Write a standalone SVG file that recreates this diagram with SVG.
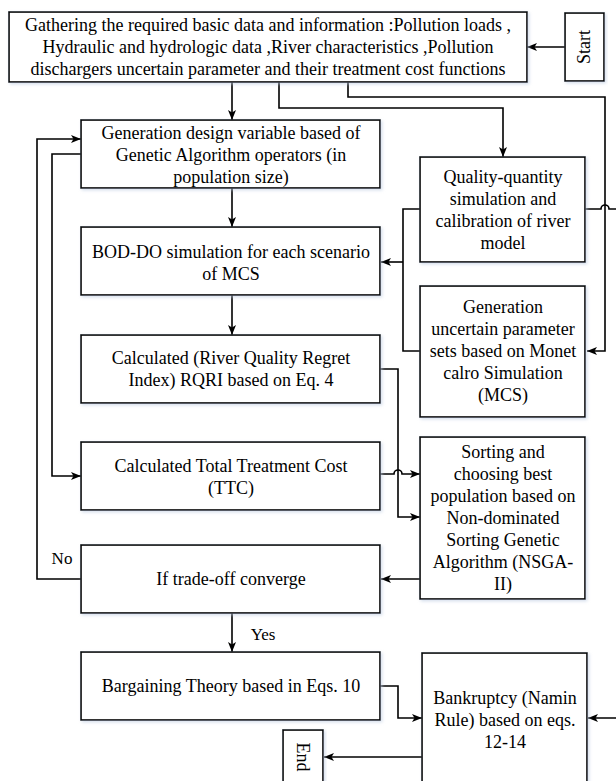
<svg xmlns="http://www.w3.org/2000/svg" width="616" height="781" viewBox="0 0 616 781">
<style>
  .box { fill: #ffffff; stroke: #000000; stroke-width: 1.6; filter: url(#sh); }
  .t { font-family: "Liberation Serif", "Times New Roman", serif; font-size: 18px; fill: #000000; text-anchor: middle; }
  .lbl { font-family: "Liberation Serif", "Times New Roman", serif; font-size: 17px; fill: #000000; }
  .c { fill: none; stroke: #000000; stroke-width: 1.6; }
  .ca { fill: none; stroke: #000000; stroke-width: 1.6; marker-end: url(#ah); }
</style>
<defs>
  <marker id="ah" viewBox="0 0 10 8" refX="10" refY="4" markerWidth="10" markerHeight="8" markerUnits="userSpaceOnUse" orient="auto">
    <path d="M0,0 L10,4 L0,8 L2.5,4 z" fill="#000000"/>
  </marker>
  <filter id="sh" x="-10%" y="-10%" width="120%" height="120%">
    <feDropShadow dx="1.5" dy="1.5" stdDeviation="1.5" flood-color="#b8c8e0" flood-opacity="0.6"/>
  </filter>
</defs>
<rect width="616" height="781" fill="#ffffff"/>

<g id="connectors">
  <path class="ca" d="M565,47 H527"/>
  <path class="ca" d="M232,82 V120"/>
  <path class="ca" d="M279,82 V108 H503 V157"/>
  <path class="ca" d="M348,82 V97 H605 V351 H587"/>
  <path class="c" d="M420,209 H403 V351 H420"/>
  <path class="ca" d="M403,262 H381"/>
  <path class="ca" d="M585,209 H601 A4,4 0 0 1 609,209 H618 V718 H588"/>
  <path class="ca" d="M232,188 V227"/>
  <path class="ca" d="M232,295 V335"/>
  <path class="ca" d="M81,154 H52 V476 H81"/>
  <path class="ca" d="M380,369 H398 V517 H420"/>
  <path class="ca" d="M380,474 H394 A4,4 0 0 1 402,474 H420"/>
  <path class="ca" d="M420,579 H381"/>
  <path class="ca" d="M81,579 H37 V139 H81"/>
  <path class="ca" d="M232,613 V652"/>
  <path class="ca" d="M380,686 H398 V718 H422"/>
  <path class="ca" d="M422,757 H324"/>
  <text class="lbl" x="62" y="564" text-anchor="middle">No</text>
  <text class="lbl" x="263" y="640" text-anchor="middle">Yes</text>
</g>

<g id="gathering">
  <rect class="box" x="9" y="12" width="518" height="70"/>
  <text class="t" x="268" y="31">Gathering the required basic data and information :Pollution loads ,</text>
  <text class="t" x="268" y="53">Hydraulic and hydrologic data ,River characteristics ,Pollution</text>
  <text class="t" x="268" y="75">dischargers uncertain parameter and their treatment cost functions</text>
</g>

<g id="start">
  <rect class="box" x="565" y="13" width="39" height="68"/>
  <text class="t" transform="translate(590,47) rotate(-90)" x="0" y="0">Start</text>
</g>

<g id="generation">
  <rect class="box" x="81" y="120" width="299" height="68"/>
  <text class="t" x="231" y="139">Generation design variable based of</text>
  <text class="t" x="231" y="161">Genetic Algorithm operators (in</text>
  <text class="t" x="231" y="183">population size)</text>
</g>

<g id="quality">
  <rect class="box" x="420" y="157" width="165" height="105"/>
  <text class="t" x="503" y="183">Quality-quantity</text>
  <text class="t" x="503" y="205">simulation and</text>
  <text class="t" x="503" y="227">calibration of river</text>
  <text class="t" x="503" y="249">model</text>
</g>

<g id="boddo">
  <rect class="box" x="81" y="227" width="299" height="68"/>
  <text class="t" x="231" y="258">BOD-DO simulation for each scenario</text>
  <text class="t" x="231" y="280">of MCS</text>
</g>

<g id="uncertain">
  <rect class="box" x="420" y="286" width="165" height="131"/>
  <text class="t" x="503" y="313">Generation</text>
  <text class="t" x="503" y="335">uncertain parameter</text>
  <text class="t" x="503" y="357">sets based on Monet</text>
  <text class="t" x="503" y="379">calro Simulation</text>
  <text class="t" x="503" y="401">(MCS)</text>
</g>

<g id="rqri">
  <rect class="box" x="81" y="335" width="299" height="68"/>
  <text class="t" x="231" y="364">Calculated (River Quality Regret</text>
  <text class="t" x="231" y="386">Index) RQRI based on Eq. 4</text>
</g>

<g id="ttc">
  <rect class="box" x="81" y="442" width="299" height="68"/>
  <text class="t" x="231" y="472">Calculated Total Treatment Cost</text>
  <text class="t" x="231" y="494">(TTC)</text>
</g>

<g id="sorting">
  <rect class="box" x="420" y="437" width="165" height="162"/>
  <text class="t" x="503" y="458">Sorting and</text>
  <text class="t" x="503" y="480">choosing best</text>
  <text class="t" x="503" y="502">population based on</text>
  <text class="t" x="503" y="524">Non-dominated</text>
  <text class="t" x="503" y="546">Sorting Genetic</text>
  <text class="t" x="503" y="568">Algorithm (NSGA-</text>
  <text class="t" x="503" y="590">II)</text>
</g>

<g id="converge">
  <rect class="box" x="81" y="545" width="299" height="68"/>
  <text class="t" x="231" y="585">If trade-off converge</text>
</g>

<g id="bargaining">
  <rect class="box" x="81" y="652" width="299" height="68"/>
  <text class="t" x="231" y="692">Bargaining Theory based in Eqs. 10</text>
</g>

<g id="bankruptcy">
  <rect class="box" x="422" y="653" width="165" height="140"/>
  <text class="t" x="505" y="704">Bankruptcy (Namin</text>
  <text class="t" x="505" y="726">Rule) based on eqs.</text>
  <text class="t" x="505" y="748">12-14</text>
</g>

<g id="end">
  <rect class="box" x="283" y="730" width="40" height="60"/>
  <text class="t" transform="translate(297,757) rotate(90)" x="0" y="0">End</text>
</g>
</svg>
